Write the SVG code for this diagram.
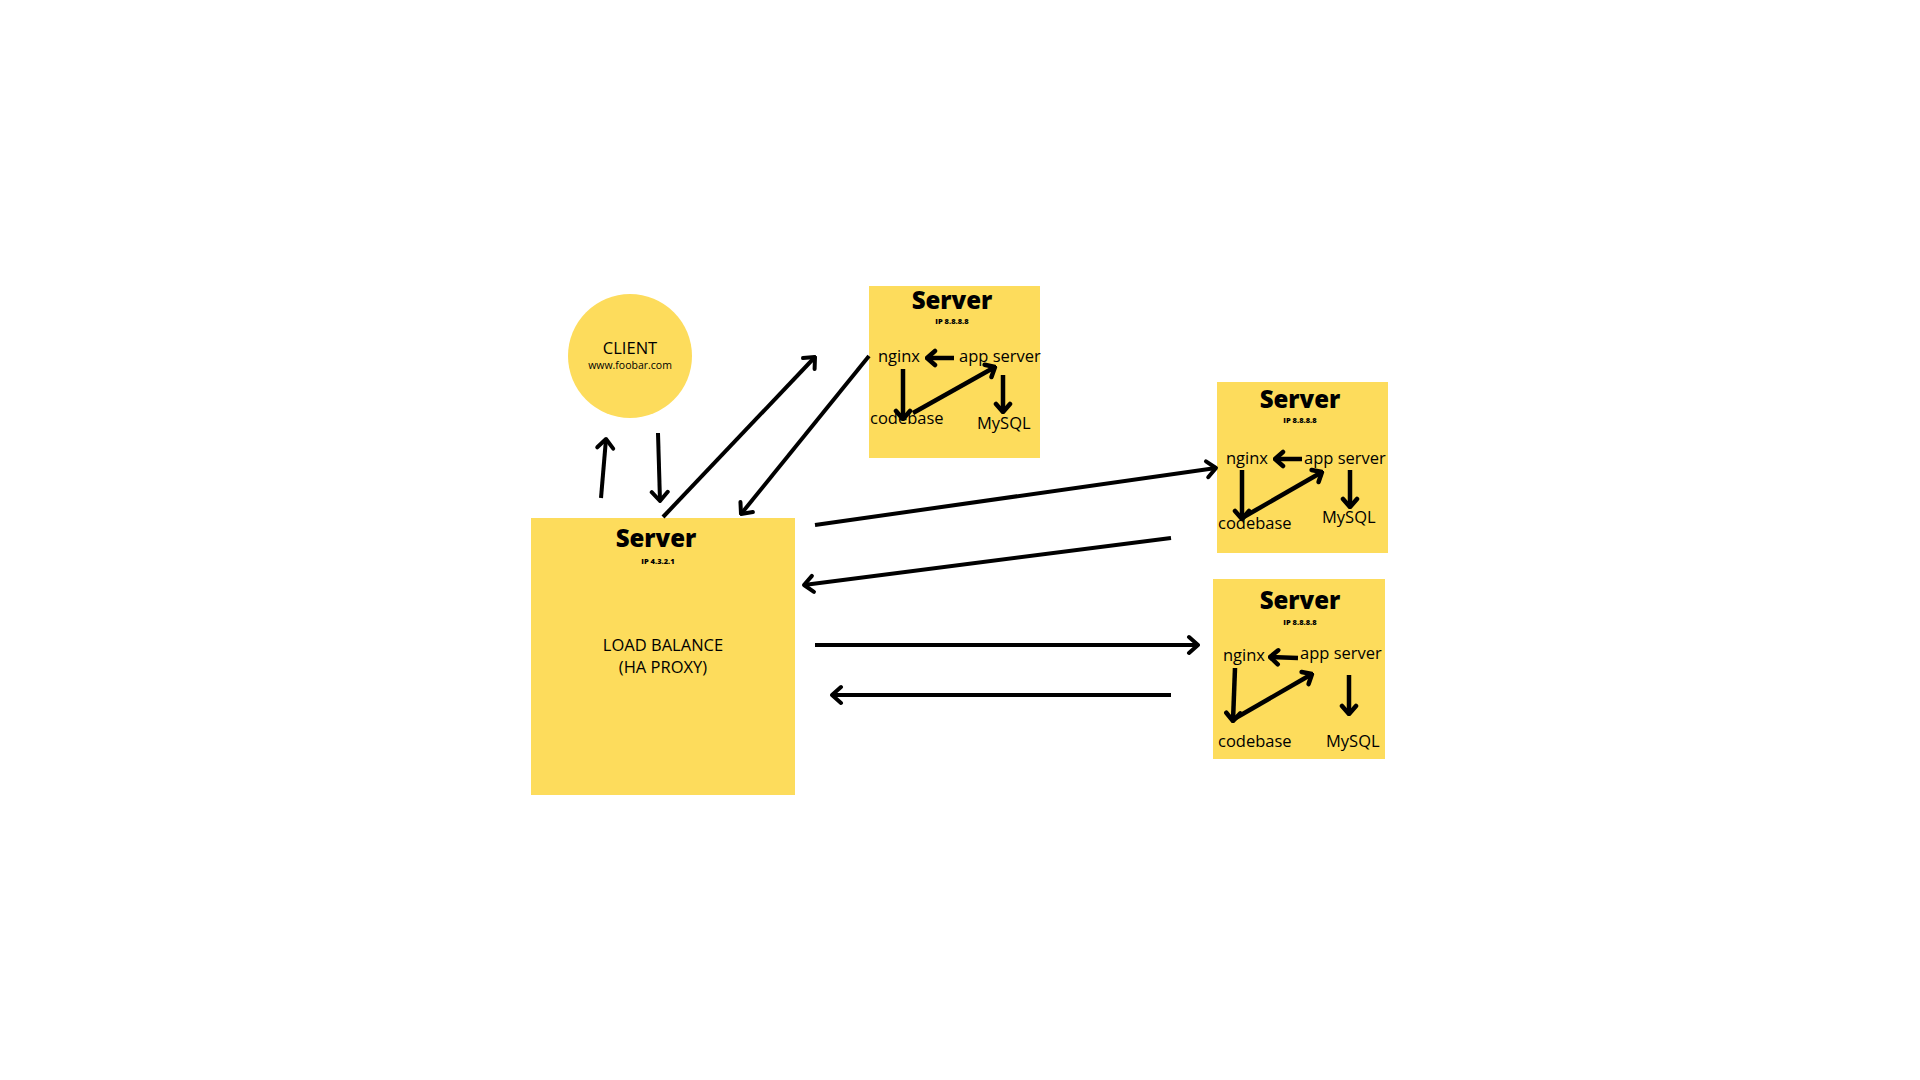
<svg xmlns="http://www.w3.org/2000/svg" width="1920" height="1080" viewBox="0 0 1920 1080">
<style>
.box{fill:#FDDC5C}
.t{font-family:"Open Sans","Liberation Sans",sans-serif;fill:#000}
.title{font-size:24px;font-weight:800;text-anchor:middle}
.ip{font-size:7.5px;font-weight:800;text-anchor:middle}
.lbl{font-size:16.5px}
.c{stroke:#000;stroke-width:4;fill:none;marker-end:url(#ah)}
.ci{stroke:#000;stroke-width:4.5;fill:none;marker-end:url(#ahs)}
</style>
<defs>
<marker id="ah" markerUnits="userSpaceOnUse" viewBox="-14 -12 16 24" markerWidth="16" markerHeight="24" refX="0" refY="0" orient="auto">
<path d="M-9,-8 L0,0 L-9,8" fill="none" stroke="#000" stroke-width="4" stroke-linecap="round" stroke-linejoin="round"/>
</marker>
<marker id="ahs" markerUnits="userSpaceOnUse" viewBox="-14 -12 16 24" markerWidth="16" markerHeight="24" refX="0" refY="0" orient="auto">
<path d="M-8,-7 L0,0 L-8,7" fill="none" stroke="#000" stroke-width="4.5" stroke-linecap="round" stroke-linejoin="round"/>
</marker>
</defs>
<rect width="1920" height="1080" fill="#fff"/>

<g id="client">
<circle class="box" cx="630" cy="356" r="62"/>
<text class="t lbl" x="630" y="354" text-anchor="middle">CLIENT</text>
<text class="t" x="630" y="369" text-anchor="middle" font-size="10.5">www.foobar.com</text>
</g>

<g id="load-balancer">
<rect class="box" x="531" y="518" width="264" height="277"/>
<text class="t title" x="656" y="547">Server</text>
<text class="t ip" x="658" y="564">IP  4.3.2.1</text>
<text class="t lbl" x="663" y="651" text-anchor="middle">LOAD BALANCE</text>
<text class="t lbl" x="663" y="673" text-anchor="middle">(HA PROXY)</text>
</g>

<g id="server-1">
<rect class="box" x="869" y="286" width="171" height="172"/>
<text class="t title" x="952" y="309">Server</text>
<text class="t ip" x="952" y="324">IP 8.8.8.8</text>
<text class="t lbl" x="878" y="362">nginx</text>
<text class="t lbl" x="959" y="362">app server</text>
<text class="t lbl" x="870" y="424">codebase</text>
<text class="t lbl" x="977" y="429">MySQL</text>
<path class="ci" d="M954,358 L927,358"/>
<path class="ci" d="M903,369 L903,419"/>
<path class="ci" d="M913,413 L995,367"/>
<path class="ci" d="M1003,375 L1003,412"/>
</g>

<g id="server-2">
<rect class="box" x="1217" y="382" width="171" height="171"/>
<text class="t title" x="1300" y="408">Server</text>
<text class="t ip" x="1300" y="423">IP 8.8.8.8</text>
<text class="t lbl" x="1226" y="464">nginx</text>
<text class="t lbl" x="1304" y="464">app server</text>
<text class="t lbl" x="1218" y="529">codebase</text>
<text class="t lbl" x="1322" y="523">MySQL</text>
<path class="ci" d="M1302,459 L1275,459"/>
<path class="ci" d="M1242,470 L1242,519"/>
<path class="ci" d="M1242,518 L1322,472"/>
<path class="ci" d="M1350,470 L1350,507"/>
</g>

<g id="server-3">
<rect class="box" x="1213" y="579" width="172" height="180"/>
<text class="t title" x="1300" y="609">Server</text>
<text class="t ip" x="1300" y="625">IP 8.8.8.8</text>
<text class="t lbl" x="1223" y="661">nginx</text>
<text class="t lbl" x="1300" y="659">app server</text>
<text class="t lbl" x="1218" y="747">codebase</text>
<text class="t lbl" x="1326" y="747">MySQL</text>
<path class="ci" d="M1298,658 L1270,657"/>
<path class="ci" d="M1235,668 L1233,721"/>
<path class="ci" d="M1234,719 L1312,674"/>
<path class="ci" d="M1349,675 L1349,714"/>
</g>

<g id="connectors">
<path class="c" d="M601,498 L606,439"/>
<path class="c" d="M658,433 L660,501"/>
<path class="c" d="M663,517 L815,357"/>
<path class="c" d="M869,356 L741,514"/>
<path class="c" d="M815,525 L1216,468"/>
<path class="c" d="M1171,538 L804,585"/>
<path class="c" d="M815,645 L1198,645"/>
<path class="c" d="M1171,695 L832,695"/>
</g>
</svg>
